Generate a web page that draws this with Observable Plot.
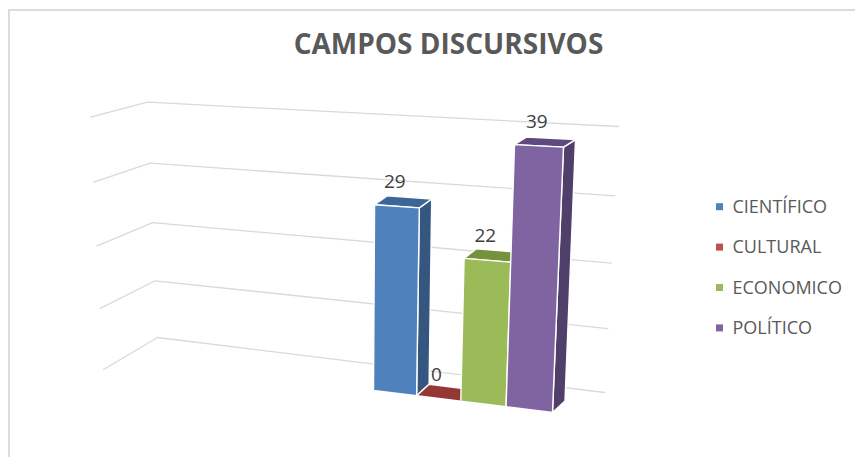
<!DOCTYPE html>
<html><head><meta charset="utf-8">
<script src="https://cdn.jsdelivr.net/npm/d3@7"></script>
<script src="https://cdn.jsdelivr.net/npm/@observablehq/plot@0.6"></script>
<style>
html,body{margin:0;padding:0;background:#fff;}
#wrap{position:relative;width:855px;height:457px;overflow:hidden;}
#border{position:absolute;left:8px;top:9px;width:900px;height:500px;border-top:2px solid #dcdcdc;border-left:2px solid #dcdcdc;}
#chart{position:absolute;left:0;top:0;}
</style></head><body>
<div id="wrap"><div id="border"></div><div id="chart"></div></div>
<script>
// ---- data ----
const title = "CAMPOS DISCURSIVOS";
const categories = ["CIENTÍFICO", "CULTURAL", "ECONOMICO", "POLÍTICO"];
const values = [29, 0, 22, 39];
const gridValues = [0, 10, 20, 30, 40];
const valueMax = 40;

// ---- styles ----
const frontColors = ["#4F81BD", "#C0504D", "#9BBB59", "#8064A2"];
const topColors   = ["#3C6697", "#953735", "#76923C", "#5F4A7D"];
const sideColors  = ["#34567F", "#7F2D2B", "#637B32", "#513F6B"];

// ---- 3-D camera: planes given by their four projected corners ----
function quadMap([p0, p1, p2, p3]) { // (0,0),(1,0),(1,1),(0,1)
  const [x0,y0]=p0,[x1,y1]=p1,[x2,y2]=p2,[x3,y3]=p3;
  const sx=x0-x1+x2-x3, sy=y0-y1+y2-y3;
  const dx1=x1-x2, dx2=x3-x2, dy1=y1-y2, dy2=y3-y2;
  const det=dx1*dy2-dx2*dy1;
  const g=(sx*dy2-dx2*sy)/det, h=(dx1*sy-sx*dy1)/det;
  const a=x1-x0+g*x1, b=x3-x0+h*x3, c=x0, d=y1-y0+g*y1, e=y3-y0+h*y3, f=y0;
  return (u, v) => { const w=g*u+h*v+1; return [(a*u+b*v+c)/w, (d*u+e*v+f)/w]; };
}
const backWall  = quadMap([[157,337],[604,392],[618,126],[147,101.7]]);
const leftWall  = quadMap([[157,337],[103,369],[90,116.7],[147,101.7]]);
const barFront  = quadMap([[373,390],[552,412],[563.3,139.5],[374.5,130.2]]);
const barBack   = quadMap([[385.5,378.5],[564.5,400.5],[575.3,132],[387,122.5]]);

const n = categories.length;
const F = (s, v) => barFront(s / n, v / valueMax);
const B = (s, v) => barBack(s / n, v / valueMax);

// gridlines: front-left -> back corner -> back-right
const grid = gridValues.flatMap(g => {
  const t = g / valueMax;
  return [leftWall(1, t), backWall(0, t), backWall(1, t)].map(([x, y]) => ({g, x, y}));
});

// bar faces
const faces = [];
categories.forEach((c, i) => {
  const v = values[i], s0 = i, s1 = i + 1;
  const add = (kind, pts, fill) => pts.forEach(([x, y]) => faces.push({id: c + kind, x, y, fill}));
  if (v > 0) add("side", [F(s1,0), F(s1,v), B(s1,v), B(s1,0)], sideColors[i]);
  add("top", [F(s0,v), F(s1,v), B(s1,v), B(s0,v)], topColors[i]);
  if (v > 0) add("front", [F(s0,0), F(s1,0), F(s1,v), F(s0,v)], frontColors[i]);
});

const labels = categories.map((c, i) => {
  const [x, y] = F(i + 0.5, values[i]);
  return {x, y, text: String(values[i])};
});

const legendRows = categories.map((c, i) => ({
  c, i, y: 206.7 + i * 40.4, color: frontColors[i]
}));

const chart = Plot.plot({
  width: 855, height: 457, margin: 0,
  x: {type: "linear", domain: [0, 855], range: [0, 855], axis: null},
  y: {type: "linear", domain: [0, 457], range: [0, 457], axis: null},
  color: {type: "identity"},
  style: {background: "transparent", fontFamily: "'Open Sans', sans-serif"},
  marks: [
    Plot.line(grid, {x: "x", y: "y", z: "g", stroke: "#d9d9d9", strokeWidth: 1.3}),
    Plot.line(faces, {x: "x", y: "y", z: "id", fill: "fill", stroke: "white", strokeWidth: 1.4,
      strokeLinejoin: "round", curve: "linear-closed"}),
    Plot.text(labels, {x: "x", y: "y", text: "text", dx: -2, dy: -24, fontSize: 19, fill: "#404040"}),
    Plot.text([title], {x: () => 448, y: () => 45, text: d => d, fontSize: 28, fontWeight: 700, fill: "#595959"}),
    Plot.rect(legendRows, {x1: () => 716, x2: () => 723, y1: d => d.y - 3.5, y2: d => d.y + 3.5, fill: "color"}),
    Plot.text(legendRows, {x: () => 732, y: "y", text: "c", textAnchor: "start", fontSize: 18, fill: "#595959"})
  ]
});
document.getElementById("chart").appendChild(chart);
</script>
</body></html>
